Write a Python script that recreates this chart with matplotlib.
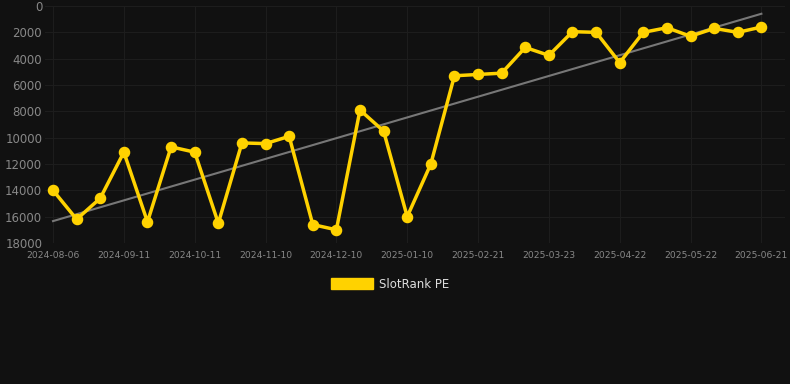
import matplotlib
matplotlib.use("Agg")
import matplotlib.pyplot as plt
import numpy as np
from matplotlib.patches import Patch

dates = ["2024-08-06", "2024-08-18", "2024-08-30", "2024-09-11", "2024-09-21",
         "2024-10-01", "2024-10-11", "2024-10-21", "2024-10-31", "2024-11-10",
         "2024-11-20", "2024-11-30", "2024-12-10", "2024-12-20", "2024-12-31",
         "2025-01-10", "2025-01-24", "2025-02-07", "2025-02-21", "2025-03-03",
         "2025-03-13", "2025-03-23", "2025-04-02", "2025-04-12", "2025-04-22",
         "2025-05-02", "2025-05-12", "2025-05-22", "2025-06-01", "2025-06-11",
         "2025-06-21"]
rank = [14000, 16200, 14600, 11100, 16400, 10700, 11100, 16500, 10400, 10450,
        9900, 16600, 17000, 7900, 9500, 16000, 12000, 5300, 5200, 5100,
        3150, 3750, 1950, 2000, 4300, 2000, 1650, 2300, 1700, 2000, 1600]

bg = "#111111"
gold = "#FFD200"
x = np.arange(len(dates))

fig = plt.figure(figsize=(7.9, 3.84), dpi=100, facecolor=bg)
ax = fig.add_axes([45 / 790, 1 - 243 / 384, 740 / 790, 237 / 384])
ax.set_facecolor(bg)

# trend line (linear fit)
k, b = np.polyfit(x, rank, 1)
ax.plot(x, k * x + b, color="#777777", lw=1.5, zorder=2)

ax.plot(x, rank, color=gold, lw=2.5, marker="o", ms=7.3, zorder=3)

ax.set_ylim(18000, 0)
ax.set_yticks(range(0, 18001, 2000))
ax.set_xlim(-0.34, 31.0)
ax.set_xticks(x[::3])
ax.set_xticklabels(dates[::3])

ax.grid(True, color="#1d1d1d", lw=0.8)
for s in ax.spines.values():
    s.set_visible(False)
ax.tick_params(axis="y", colors="#888888", labelsize=8.5, length=0, pad=2)
ax.tick_params(axis="x", colors="#888888", labelsize=6.6, length=0, pad=6)

fig.legend(handles=[Patch(color=gold, label="SlotRank PE")],
           loc="center", bbox_to_anchor=(390 / 790, 1 - 284 / 384),
           frameon=False, labelcolor="#dddddd", fontsize=8.5,
           handlelength=3.6, handleheight=1.1, handletextpad=0.5)

fig.savefig("out.png", facecolor=bg)
